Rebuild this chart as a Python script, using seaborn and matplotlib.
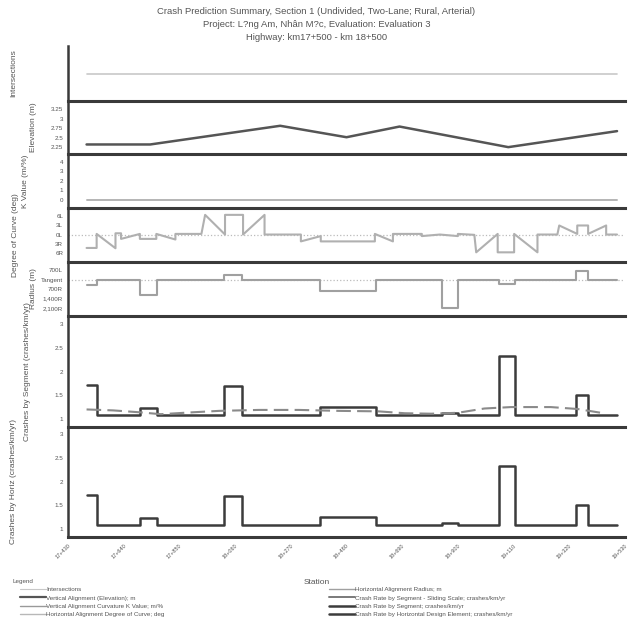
import matplotlib
matplotlib.use("Agg")
import matplotlib.pyplot as plt
import seaborn as sns
from matplotlib.lines import Line2D

# ---- data (stations in metres) ----
tick_stations = [17430, 17640, 17850, 18060, 18270, 18480, 18690, 18900, 19110, 19320, 19530]
tick_labels = ["17+430", "17+640", "17+850", "18+060", "18+270", "18+480",
               "18+690", "18+900", "19+110", "19+320", "19+530"]

intersection_station = [17500, 19500]
intersection_value = [0, 0]

elev_station = [17500, 17740, 18230, 18480, 18680, 19090, 19500]
elev_value = [2.32, 2.32, 2.81, 2.51, 2.79, 2.25, 2.67]

k_station = [17500, 19500]
k_value = [0, 0]

# degree of curve: left curves positive, right curves negative
curve_station = [17500, 17538, 17538, 17609, 17609, 17630, 17630, 17701, 17701, 17763,
                 17763, 17835, 17835, 17933, 17947, 18022, 18022, 18090, 18090, 18171,
                 18171, 18308, 18308, 18383, 18383, 18587, 18587, 18655, 18655, 18764,
                 18764, 18832, 18900, 18900, 18962, 18969, 19050, 19050, 19112, 19112,
                 19200, 19200, 19275, 19282, 19350, 19350, 19391, 19391, 19459, 19459,
                 19500]
curve_deg = [-4.3, -4.3, 0.2, -4.4, 0.4, 0.4, -1.4, 0.2, -1.4, -1.4,
             0.2, -1.6, 0.2, 0.2, 6.3, 0.0, 6.3, 6.3, 0.0, 6.3,
             0.0, 0.0, -2.2, -0.5, -2.2, -2.2, 0.2, -2.2, 0.2, 0.2,
             -0.5, 0.0, -0.5, 0.2, -0.1, -5.7, 0.2, -5.7, -5.7, 0.2,
             -5.7, 0.0, 0.0, 2.9, 0.2, 2.9, 2.9, 0.2, 2.9, 0.0,
             0.0]
curve_ticks = [6, 3, 0, -3, -6]
curve_ticklabels = ["6L", "3L", "0L", "3R", "6R"]

seg_bounds = [17500, 17540, 17700, 17765, 18020, 18085, 18380, 18590, 18840, 18900,
              19055, 19115, 19345, 19390, 19500]
radius_level = [-0.55, 0, -1.6, 0, 0.45, 0, -1.2, 0, -3.0, 0, -0.45, 0, 0.95, 0]
radius_ticks = [1, 0, -1, -2, -3]
radius_ticklabels = ["700L", "Tangent", "700R", "1,400R", "2,100R"]

seg_rate = [1.72, 1.08, 1.24, 1.08, 1.70, 1.08, 1.25, 1.08, 1.12, 1.08, 2.32, 1.08, 1.51, 1.08]
horiz_rate = [1.72, 1.08, 1.24, 1.08, 1.70, 1.08, 1.25, 1.08, 1.12, 1.08, 2.32, 1.08, 1.51, 1.08]

sliding_station = [17500, 17600, 17700, 17780, 17900, 18000, 18150, 18300, 18450, 18600,
                   18700, 18800, 18900, 19000, 19100, 19250, 19350, 19450]
sliding_rate = [1.20, 1.18, 1.14, 1.10, 1.14, 1.17, 1.19, 1.19, 1.17, 1.16,
                1.12, 1.11, 1.13, 1.22, 1.25, 1.25, 1.21, 1.12]

rate_ticks = [1, 1.5, 2, 2.5, 3]
rate_ticklabels = ["1", "1.5", "2", "2.5", "3"]

title_lines = [
    "Crash Prediction Summary, Section 1 (Undivided, Two-Lane; Rural, Arterial)",
    "Project: L?ng Am, Nhân M?c, Evaluation: Evaluation 3",
    "Highway: km17+500 - km 18+500",
]

DARK = "#3a3a3a"
TEXT = "#555555"

sns.set_theme(style="white")
plt.rcParams["font.family"] = ["Liberation Sans", "DejaVu Sans"]

fig = plt.figure(figsize=(6.29, 6.24), dpi=100)
W, H = 629, 624
x0, x1 = 68, 625
panels = [(46, 101), (101, 154), (154, 208), (208, 262), (262, 316), (316, 427), (427, 537)]
axes = []
for top, bot in panels:
    ax = fig.add_axes([x0 / W, 1 - bot / H, (x1 - x0) / W, (bot - top) / H],
                      sharex=axes[0] if axes else None)
    axes.append(ax)
ax_int, ax_elev, ax_k, ax_deg, ax_rad, ax_seg, ax_hor = axes


def steps(bounds, values):
    return bounds, list(values) + [values[-1]]


sns.lineplot(x=intersection_station, y=intersection_value, ax=ax_int, color="#c8c8c8",
             linewidth=1.2, estimator=None, sort=False)
sns.lineplot(x=elev_station, y=elev_value, ax=ax_elev, color="#555555",
             linewidth=1.8, estimator=None, sort=False)
sns.lineplot(x=k_station, y=k_value, ax=ax_k, color="#b4b4b4",
             linewidth=1.4, estimator=None, sort=False)
ax_deg.axhline(0, color="#bbbbbb", linestyle=":", linewidth=0.9)
sns.lineplot(x=curve_station, y=curve_deg, ax=ax_deg, color="#b0b0b0",
             linewidth=1.5, estimator=None, sort=False)
ax_rad.axhline(0, color="#bbbbbb", linestyle=":", linewidth=0.9)
rx, ry = steps(seg_bounds, radius_level)
sns.lineplot(x=rx, y=ry, ax=ax_rad, color="#a0a0a0", linewidth=1.5,
             estimator=None, sort=False, drawstyle="steps-post")
sx, sy = steps(seg_bounds, seg_rate)
sns.lineplot(x=sx, y=sy, ax=ax_seg, color="#3c3c3c", linewidth=1.8,
             estimator=None, sort=False, drawstyle="steps-post")
sns.lineplot(x=sliding_station, y=sliding_rate, ax=ax_seg, color="#8a8a8a",
             linewidth=1.5, estimator=None, sort=False, dashes=False,
             linestyle=(0, (7, 3)))
hx, hy = steps(seg_bounds, horiz_rate)
sns.lineplot(x=hx, y=hy, ax=ax_hor, color="#3c3c3c", linewidth=1.8,
             estimator=None, sort=False, drawstyle="steps-post")

ax_int.set_ylim(-1, 1)
ax_int.set_yticks([])
ax_elev.set_ylim(2.07, 3.46)
ax_elev.set_yticks([2.25, 2.5, 2.75, 3, 3.25], ["2.25", "2.5", "2.75", "3", "3.25"])
ax_k.set_ylim(-0.83, 4.8)
ax_k.set_yticks([0, 1, 2, 3, 4], ["0", "1", "2", "3", "4"])
ax_deg.set_ylim(-8.8, 8.5)
ax_deg.set_yticks(curve_ticks, curve_ticklabels)
ax_rad.set_ylim(-3.85, 1.88)
ax_rad.set_yticks(radius_ticks, radius_ticklabels)
ax_seg.set_ylim(0.83, 3.17)
ax_seg.set_yticks(rate_ticks, rate_ticklabels)
ax_hor.set_ylim(0.83, 3.15)
ax_hor.set_yticks(rate_ticks, rate_ticklabels)

ylabels = ["Intersections", "Elevation (m)", "K Value (m/%)", "Degree of Curve (deg)",
           "Radius (m)", "Crashes by Segment (crashes/km/yr)", "Crashes by Horiz (crashes/km/yr)"]
label_x_px = [17, 37, 29, 19, 37, 31, 17]
for ax, lab, lx in zip(axes, ylabels, label_x_px):
    ax.set_xlim(17430, 19530)
    ax.set_xticks(tick_stations)
    ax.set_xlabel("")
    ax.set_ylabel(lab, fontsize=6, color=TEXT)
    ax.yaxis.set_label_coords((lx - x0) / (x1 - x0), 0.5)
    ax.spines["top"].set_visible(False)
    ax.spines["right"].set_visible(False)
    ax.spines["left"].set_color(DARK)
    ax.spines["left"].set_linewidth(1.8)
    ax.spines["bottom"].set_color(DARK)
    ax.spines["bottom"].set_linewidth(2.2)
    ax.tick_params(axis="x", direction="inout", length=7, width=1.2, colors=DARK,
                   labelbottom=False)
    ax.tick_params(axis="y", direction="inout", length=5, width=1, colors=DARK,
                   labelsize=4.5, labelcolor=TEXT, pad=1)
    ax.set_facecolor("none")
    ax.grid(False)

ax_hor.tick_params(axis="x", labelbottom=True, labelsize=4, labelcolor=TEXT, pad=1)
ax_hor.set_xticks(tick_stations, tick_labels)
for t in ax_hor.get_xticklabels():
    t.set_rotation(45)
    t.set_ha("right")
    t.set_rotation_mode("anchor")

for i, line in enumerate(title_lines):
    fig.text(0.503, 1 - (12 + 12.5 * i) / H, line, ha="center", va="center",
             fontsize=6.8, color=TEXT)

fig.text(317 / W, 1 - 582 / H, "Station", ha="center", va="center", fontsize=6, color=TEXT)
fig.text(13 / W, 1 - 582 / H, "Legend", ha="left", va="center", fontsize=4.5, color=TEXT)

left_items = [
    ("Intersections", "#c8c8c8", 0.8, "-"),
    ("Vertical Alignment (Elevation); m", "#555555", 1.6, "-"),
    ("Vertical Alignment Curvature K Value; m/%", "#999999", 1.0, "-"),
    ("Horizontal Alignment Degree of Curve; deg", "#b8b8b8", 1.0, "-"),
]
right_items = [
    ("Horizontal Alignment Radius; m", "#a0a0a0", 1.0, "-"),
    ("Crash Rate by Segment - Sliding Scale; crashes/km/yr", "#7a7a7a", 1.4, "-"),
    ("Crash Rate by Segment; crashes/km/yr", "#3c3c3c", 1.8, "-"),
    ("Crash Rate by Horizontal Design Element; crashes/km/yr", "#3c3c3c", 1.8, "-"),
]
for items, lx in [(left_items, 20), (right_items, 329)]:
    handles = [Line2D([0], [0], color=c, linewidth=lw, linestyle=ls) for _, c, lw, ls in items]
    labels = [lab for lab, _, _, _ in items]
    leg = fig.legend(handles, labels, loc="upper left", bbox_to_anchor=(lx / W, 1 - 587 / H),
                     frameon=False, fontsize=4.5, handlelength=4.2, handletextpad=0.0,
                     labelspacing=0.45, borderpad=0, borderaxespad=0)
    for t in leg.get_texts():
        t.set_color(TEXT)

fig.savefig("out.png", dpi=100, facecolor="white")
